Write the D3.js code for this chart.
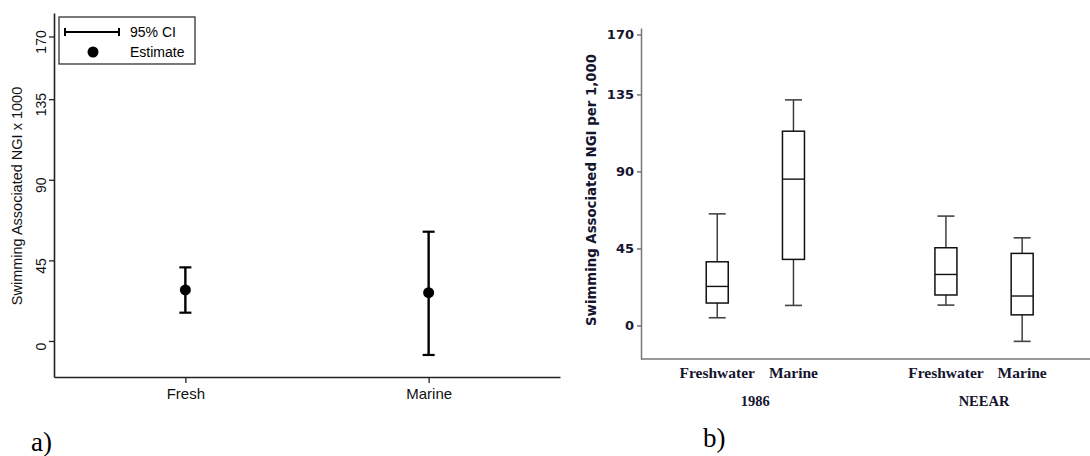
<!DOCTYPE html>
<html>
<head>
<meta charset="utf-8">
<script src="https://cdn.jsdelivr.net/npm/d3@7"></script>
<style>
  body { margin: 0; background: #fff; }
  svg { display: block; }
</style>
</head>
<body>
<svg id="svg" width="1090" height="456"></svg>
<script>
// panel a) estimates with 95% CI
var sites = ["Fresh", "Marine"];
var estimate = [28.5, 27];
var ciLow = [15.8, -7.8];
var ciHigh = [41.1, 61];
var ticksA = [0, 45, 90, 135, 170];

// panel b) boxplots
var studies = ["1986", "NEEAR"];
var waters = ["Freshwater", "Marine"];
var boxMin = [[4.5, 11.7], [11.9, -9.3]];
var boxQ1 = [[13.1, 38.6], [17.8, 6.2]];
var boxMed = [[22.8, 85.5], [29.8, 17.2]];
var boxQ3 = [[37.2, 113.5], [45.4, 42.1]];
var boxMax = [[65.2, 131.8], [63.9, 51.2]];
var ticksB = [0, 45, 90, 135, 170];

var svg = d3.select("#svg");

// ---------- panel a ----------
var ga = svg.append("g");
var xA = d3.scalePoint().domain(sites).range([54, 560]).padding(0.54);
var yA = d3.scaleLinear().domain([-20.1, 183.1]).range([377, 13]);

var axA = ga.append("g").attr("transform", "translate(54,0)")
  .call(d3.axisLeft(yA).tickValues(ticksA).tickSize(5).tickSizeOuter(0));
axA.select(".domain").attr("stroke", "#222").attr("stroke-width", 1.6);
axA.selectAll(".tick line").attr("stroke", "#222").attr("stroke-width", 1.3);
axA.selectAll(".tick text")
  .attr("font-family", "Liberation Sans, Arial, sans-serif")
  .attr("font-size", 14).attr("fill", "#111")
  .attr("text-anchor", "middle").attr("x", null).attr("dy", null)
  .attr("transform", "translate(-12,5) rotate(-90)")
  .attr("y", 0).attr("dominant-baseline", "middle");

var axAx = ga.append("g").attr("transform", "translate(0,377)")
  .call(d3.axisBottom(xA).tickSize(6).tickSizeOuter(0));
axAx.select(".domain").attr("stroke", "#222").attr("stroke-width", 1.6);
axAx.selectAll(".tick line").attr("stroke", "#222").attr("stroke-width", 1.3);
axAx.selectAll(".tick text")
  .attr("font-family", "Liberation Sans, Arial, sans-serif")
  .attr("font-size", 15).attr("fill", "#111").attr("y", 11);

ga.append("text")
  .attr("transform", "translate(22,196) rotate(-90)")
  .attr("text-anchor", "middle")
  .attr("font-family", "Liberation Sans, Arial, sans-serif")
  .attr("font-size", 14.5).attr("fill", "#111")
  .text("Swimming Associated NGI x 1000");

var pts = ga.selectAll(".pt").data(sites).enter().append("g").attr("class", "pt");
pts.append("line")
  .attr("x1", function(d) { return xA(d); }).attr("x2", function(d) { return xA(d); })
  .attr("y1", function(d, i) { return yA(ciLow[i]); })
  .attr("y2", function(d, i) { return yA(ciHigh[i]); })
  .attr("stroke", "#000").attr("stroke-width", 2.4);
pts.append("line")
  .attr("x1", function(d) { return xA(d) - 6; }).attr("x2", function(d) { return xA(d) + 6; })
  .attr("y1", function(d, i) { return yA(ciLow[i]); })
  .attr("y2", function(d, i) { return yA(ciLow[i]); })
  .attr("stroke", "#000").attr("stroke-width", 2.2);
pts.append("line")
  .attr("x1", function(d) { return xA(d) - 6; }).attr("x2", function(d) { return xA(d) + 6; })
  .attr("y1", function(d, i) { return yA(ciHigh[i]); })
  .attr("y2", function(d, i) { return yA(ciHigh[i]); })
  .attr("stroke", "#000").attr("stroke-width", 2.2);
pts.append("circle")
  .attr("cx", function(d) { return xA(d); })
  .attr("cy", function(d, i) { return yA(estimate[i]); })
  .attr("r", 5.5).attr("fill", "#000");

// legend
var lg = ga.append("g");
lg.append("rect").attr("x", 59).attr("y", 17).attr("width", 136).attr("height", 47)
  .attr("fill", "#fff").attr("stroke", "#333").attr("stroke-width", 1.3);
lg.append("line").attr("x1", 64).attr("x2", 120).attr("y1", 32).attr("y2", 32)
  .attr("stroke", "#000").attr("stroke-width", 2.2);
lg.append("line").attr("x1", 65).attr("x2", 65).attr("y1", 28).attr("y2", 36)
  .attr("stroke", "#000").attr("stroke-width", 2);
lg.append("line").attr("x1", 119).attr("x2", 119).attr("y1", 28).attr("y2", 36)
  .attr("stroke", "#000").attr("stroke-width", 2);
lg.append("circle").attr("cx", 93).attr("cy", 52).attr("r", 5.5).attr("fill", "#000");
lg.append("text").attr("x", 130).attr("y", 37)
  .attr("font-family", "Liberation Sans, Arial, sans-serif").attr("font-size", 14)
  .text("95% CI");
lg.append("text").attr("x", 130).attr("y", 57)
  .attr("font-family", "Liberation Sans, Arial, sans-serif").attr("font-size", 14)
  .text("Estimate");

svg.append("text").attr("x", 31).attr("y", 451)
  .attr("font-family", "Liberation Serif, Times New Roman, serif").attr("font-size", 27)
  .text("a)");

// ---------- panel b ----------
var gb = svg.append("g");
var navy = "#15152e";
var xB = d3.scaleBand().domain(studies).range([641, 1098.4]);
var xIn = d3.scalePoint().domain(waters).range([0, xB.bandwidth()]).padding(1);
var yB = d3.scaleLinear().domain([-19.6, 173.8]).range([359, 28]);

var axB = gb.append("g").attr("transform", "translate(641,0)")
  .call(d3.axisLeft(yB).tickValues(ticksB).tickSize(4).tickSizeOuter(0));
axB.select(".domain").attr("stroke", "#777").attr("stroke-width", 1.5);
axB.selectAll(".tick line").attr("stroke", "#555").attr("stroke-width", 1.2);
axB.selectAll(".tick text")
  .attr("font-family", "DejaVu Sans, Verdana, sans-serif").attr("font-weight", "bold")
  .attr("font-size", 13).attr("fill", navy).attr("x", -7);

var axBx = gb.append("g").attr("transform", "translate(0,359)");
axBx.append("line").attr("x1", 641).attr("x2", 1090).attr("y1", 0).attr("y2", 0)
  .attr("stroke", "#777").attr("stroke-width", 1.5);

gb.append("text")
  .attr("transform", "translate(596,190) rotate(-90)")
  .attr("text-anchor", "middle")
  .attr("font-family", "DejaVu Sans, Verdana, sans-serif").attr("font-weight", "bold")
  .attr("font-size", 13.3).attr("fill", navy)
  .text("Swimming Associated NGI per 1,000");

var grp = gb.selectAll(".grp").data(studies).enter().append("g").attr("class", "grp")
  .attr("transform", function(d) { return "translate(" + xB(d) + ",0)"; });

grp.append("text")
  .attr("x", xB.bandwidth() / 2).attr("y", 406)
  .attr("text-anchor", "middle")
  .attr("font-family", "Liberation Serif, Times New Roman, serif").attr("font-weight", "bold")
  .attr("font-size", 14.5).attr("fill", navy)
  .text(function(d) { return d; });

grp.each(function(s, si) {
  var g = d3.select(this);
  waters.forEach(function(w, wi) {
    var cx = xIn(w);
    var bw = 22, cw = 17;
    g.append("text").attr("x", cx).attr("y", 378).attr("text-anchor", "middle")
      .attr("font-family", "Liberation Serif, Times New Roman, serif").attr("font-weight", "bold")
      .attr("font-size", 15.5).attr("fill", navy).text(w);
    // whiskers
    g.append("line").attr("x1", cx).attr("x2", cx)
      .attr("y1", yB(boxMax[si][wi])).attr("y2", yB(boxQ3[si][wi]))
      .attr("stroke", "#333").attr("stroke-width", 1.4);
    g.append("line").attr("x1", cx).attr("x2", cx)
      .attr("y1", yB(boxQ1[si][wi])).attr("y2", yB(boxMin[si][wi]))
      .attr("stroke", "#333").attr("stroke-width", 1.4);
    g.append("line").attr("x1", cx - cw / 2).attr("x2", cx + cw / 2)
      .attr("y1", yB(boxMax[si][wi])).attr("y2", yB(boxMax[si][wi]))
      .attr("stroke", "#444").attr("stroke-width", 1.6);
    g.append("line").attr("x1", cx - cw / 2).attr("x2", cx + cw / 2)
      .attr("y1", yB(boxMin[si][wi])).attr("y2", yB(boxMin[si][wi]))
      .attr("stroke", "#444").attr("stroke-width", 1.6);
    // box
    g.append("rect").attr("x", cx - bw / 2).attr("width", bw)
      .attr("y", yB(boxQ3[si][wi]))
      .attr("height", yB(boxQ1[si][wi]) - yB(boxQ3[si][wi]))
      .attr("fill", "#fff").attr("stroke", "#111").attr("stroke-width", 1.5);
    g.append("line").attr("x1", cx - bw / 2).attr("x2", cx + bw / 2)
      .attr("y1", yB(boxMed[si][wi])).attr("y2", yB(boxMed[si][wi]))
      .attr("stroke", "#111").attr("stroke-width", 1.4);
  });
});

svg.append("text").attr("x", 703).attr("y", 447)
  .attr("font-family", "Liberation Serif, Times New Roman, serif").attr("font-size", 27)
  .text("b)");
</script>
</body>
</html>
